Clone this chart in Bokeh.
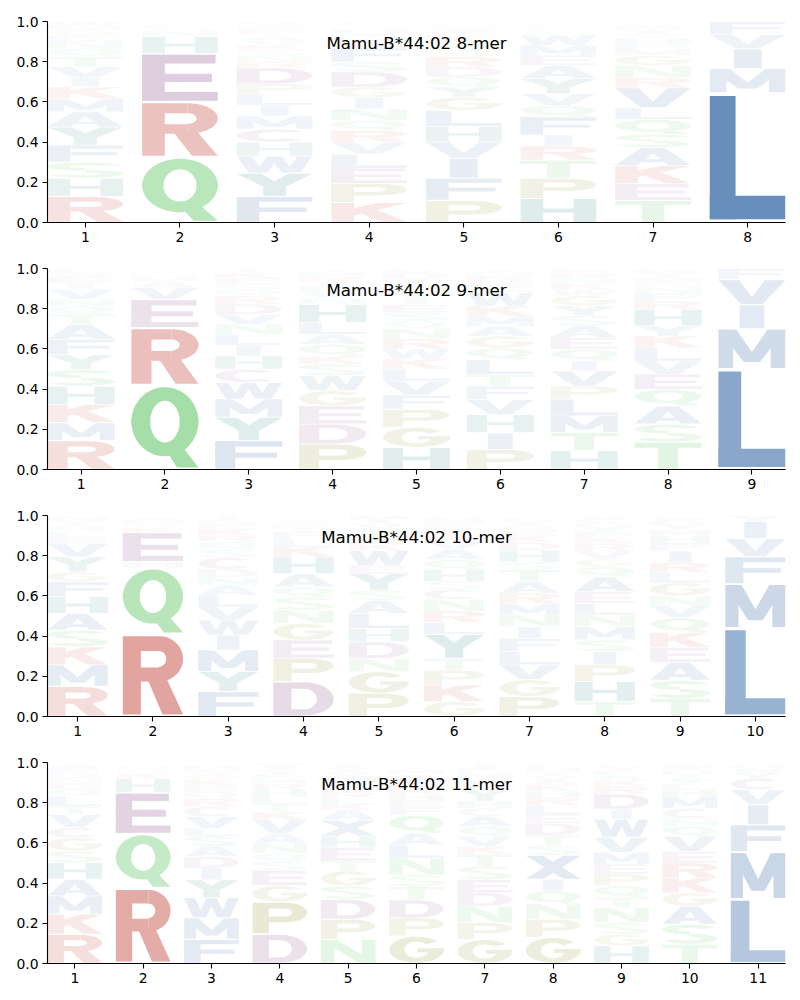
import numpy as np
from bokeh.plotting import figure
from bokeh.layouts import column
from bokeh.models import Label, Range1d, FixedTicker, PrintfTickFormatter
from bokeh.embed import file_html
from bokeh.resources import INLINE

# ---------------- data ----------------
titles = ["Mamu-B*44:02 8-mer", "Mamu-B*44:02 9-mer",
          "Mamu-B*44:02 10-mer", "Mamu-B*44:02 11-mer"]

mer8_letters = [
    "RHSFYAMKIVTQNEGDW",
    "QREHNSKYM",
    "FYWHCMILPDRNSKVATEQG",
    "KPELVRQNIGDSFAMYHTCW",
    "PFIVHLGYQDRSNTEKAMCW",
    "HPTRIFQVYAEMWNSKGLDC",
    "TEKASQLVRNGMFHYIDWCP",
    "LMIVF",
]
mer8_heights = [
    [0.13, 0.09, 0.08, 0.085, 0.09, 0.075, 0.065, 0.06, 0.045, 0.055, 0.05, 0.04, 0.035, 0.03, 0.03, 0.02, 0.02],
    [0.325, 0.275, 0.24, 0.085, 0.03, 0.02, 0.01, 0.008, 0.007],
    [0.13, 0.115, 0.085, 0.07, 0.065, 0.065, 0.055, 0.055, 0.05, 0.08, 0.03, 0.03, 0.03, 0.025, 0.02, 0.02, 0.015, 0.02, 0.02, 0.02],
    [0.10, 0.095, 0.075, 0.07, 0.06, 0.058, 0.05, 0.058, 0.055, 0.053, 0.075, 0.05, 0.07, 0.03, 0.025, 0.02, 0.02, 0.015, 0.01, 0.011],
    [0.11, 0.11, 0.10, 0.08, 0.078, 0.08, 0.066, 0.05, 0.05, 0.05, 0.05, 0.03, 0.03, 0.025, 0.02, 0.02, 0.015, 0.014, 0.012, 0.01],
    [0.12, 0.10, 0.09, 0.07, 0.055, 0.09, 0.058, 0.058, 0.075, 0.066, 0.05, 0.05, 0.05, 0.015, 0.012, 0.01, 0.01, 0.008, 0.007, 0.005],
    [0.11, 0.083, 0.09, 0.09, 0.066, 0.074, 0.058, 0.10, 0.05, 0.06, 0.05, 0.03, 0.03, 0.025, 0.02, 0.02, 0.015, 0.012, 0.01, 0.007],
    [0.645, 0.12, 0.10, 0.07, 0.065],
]

mer9_letters = [
    "RMKHSYFATQNVIEWL",
    "QREVAMHKSN",
    "FYMWCHILNVDRQSEKT",
    "PDEGWSKQALHNVFIRMT",
    "HGPFVLKWRNQSEIYMATDC",
    "PIHVFTLQGAMKWSERNY",
    "HTMLPVIQEASYGWKNRF",
    "TSAQEVLKYHRFNGMIWD",
    "LMIVF",
]
mer9_heights = [
    [0.144, 0.09, 0.09, 0.09, 0.083, 0.075, 0.075, 0.075, 0.05, 0.04, 0.035, 0.05, 0.03, 0.03, 0.02, 0.02],
    [0.42, 0.285, 0.14, 0.06, 0.03, 0.02, 0.015, 0.01, 0.01, 0.01],
    [0.144, 0.116, 0.09, 0.083, 0.066, 0.066, 0.053, 0.055, 0.05, 0.05, 0.05, 0.04, 0.03, 0.03, 0.03, 0.025, 0.02],
    [0.127, 0.10, 0.09, 0.075, 0.075, 0.058, 0.04, 0.058, 0.05, 0.058, 0.09, 0.03, 0.03, 0.03, 0.025, 0.025, 0.02, 0.019],
    [0.11, 0.10, 0.09, 0.07, 0.07, 0.06, 0.05, 0.05, 0.05, 0.05, 0.04, 0.04, 0.04, 0.03, 0.03, 0.02, 0.02, 0.03, 0.03, 0.02],
    [0.10, 0.083, 0.09, 0.075, 0.066, 0.058, 0.075, 0.058, 0.058, 0.05, 0.05, 0.05, 0.066, 0.03, 0.03, 0.025, 0.02, 0.016],
    [0.094, 0.09, 0.083, 0.083, 0.066, 0.075, 0.05, 0.058, 0.058, 0.058, 0.05, 0.05, 0.05, 0.03, 0.03, 0.025, 0.025, 0.025],
    [0.136, 0.09, 0.09, 0.083, 0.075, 0.066, 0.066, 0.058, 0.05, 0.083, 0.04, 0.04, 0.03, 0.025, 0.02, 0.02, 0.015, 0.013],
    [0.50, 0.20, 0.12, 0.125, 0.055],
]

mer10_letters = [
    "RMKSAHFGYVELQTN",
    "RQHEKSMAN",
    "FYMIWVLANDCSQRKEGT",
    "DPEGNSQAHKLFTRVYMW",
    "PGNDHLASYEWKRTQVIM",
    "GKPTYLRNCSHQAVEIDFMW",
    "PGVLFINMRATSHDKEQYCW",
    "THPISMNLEAQGVRKFYDCW",
    "TSAEKQVNGLRIFHMYDWC",
    "LMFVIY",
]
mer10_heights = [
    [0.15, 0.107, 0.09, 0.083, 0.083, 0.083, 0.074, 0.05, 0.074, 0.066, 0.03, 0.03, 0.03, 0.025, 0.025],
    [0.41, 0.33, 0.03, 0.145, 0.025, 0.02, 0.015, 0.015, 0.01],
    [0.124, 0.10, 0.107, 0.074, 0.074, 0.066, 0.058, 0.05, 0.04, 0.04, 0.058, 0.04, 0.04, 0.03, 0.03, 0.025, 0.02, 0.024],
    [0.174, 0.116, 0.09, 0.083, 0.066, 0.066, 0.05, 0.066, 0.083, 0.05, 0.04, 0.035, 0.02, 0.02, 0.015, 0.01, 0.01, 0.006],
    [0.116, 0.107, 0.066, 0.083, 0.066, 0.074, 0.066, 0.05, 0.083, 0.04, 0.074, 0.03, 0.03, 0.025, 0.025, 0.025, 0.02, 0.02],
    [0.074, 0.083, 0.074, 0.058, 0.12, 0.058, 0.058, 0.058, 0.05, 0.04, 0.058, 0.05, 0.05, 0.04, 0.03, 0.025, 0.02, 0.02, 0.02, 0.014],
    [0.10, 0.083, 0.074, 0.066, 0.066, 0.058, 0.058, 0.058, 0.05, 0.058, 0.058, 0.04, 0.058, 0.04, 0.03, 0.03, 0.025, 0.02, 0.016, 0.012],
    [0.074, 0.10, 0.083, 0.066, 0.058, 0.066, 0.058, 0.058, 0.058, 0.074, 0.05, 0.04, 0.04, 0.035, 0.03, 0.03, 0.025, 0.02, 0.02, 0.015],
    [0.09, 0.09, 0.09, 0.074, 0.074, 0.074, 0.058, 0.05, 0.066, 0.05, 0.05, 0.058, 0.04, 0.035, 0.03, 0.025, 0.02, 0.016, 0.01],
    [0.44, 0.22, 0.135, 0.09, 0.085, 0.03],
]

mer11_letters = [
    "RKMAHSGCVTLQENDFWI",
    "RQEHKSNMA",
    "FMWYIDASLVCRQEKGNHT",
    "DPGESQNAVKTLHRMFYIW",
    "NPDSGTEHXAKLRQFMVYIW",
    "GPDTSNLAQFEHKRVYMICW",
    "GPNDESTKVQACHYRLMFIW",
    "GPNQIXSTDELRHKAVYMFW",
    "HGSNTQPEMVWIDRKAFYLC",
    "TSAGKREVQNCMHLYIDFWP",
    "LMFIVCYWHQ",
]
mer11_heights = [
    [0.146, 0.1, 0.09, 0.083, 0.083, 0.058, 0.066, 0.05, 0.066, 0.04, 0.05, 0.035, 0.03, 0.025, 0.025, 0.02, 0.02, 0.013],
    [0.375, 0.27, 0.205, 0.07, 0.025, 0.02, 0.015, 0.01, 0.01],
    [0.12, 0.107, 0.1, 0.09, 0.058, 0.058, 0.05, 0.05, 0.04, 0.058, 0.05, 0.04, 0.035, 0.03, 0.03, 0.025, 0.025, 0.02, 0.014],
    [0.146, 0.16, 0.083, 0.074, 0.045, 0.04, 0.05, 0.05, 0.066, 0.04, 0.04, 0.035, 0.035, 0.03, 0.025, 0.025, 0.02, 0.02, 0.016],
    [0.12, 0.1, 0.1, 0.066, 0.074, 0.05, 0.066, 0.058, 0.08, 0.05, 0.03, 0.03, 0.03, 0.03, 0.025, 0.025, 0.02, 0.02, 0.015, 0.011],
    [0.137, 0.09, 0.09, 0.066, 0.058, 0.083, 0.066, 0.058, 0.09, 0.04, 0.035, 0.03, 0.03, 0.025, 0.025, 0.02, 0.02, 0.015, 0.012, 0.01],
    [0.12, 0.083, 0.083, 0.066, 0.066, 0.066, 0.058, 0.04, 0.05, 0.05, 0.05, 0.04, 0.035, 0.06, 0.03, 0.025, 0.025, 0.02, 0.02, 0.013],
    [0.13, 0.09, 0.075, 0.066, 0.058, 0.12, 0.05, 0.05, 0.058, 0.045, 0.045, 0.04, 0.03, 0.03, 0.025, 0.02, 0.02, 0.02, 0.015, 0.013],
    [0.088, 0.058, 0.058, 0.075, 0.05, 0.058, 0.058, 0.05, 0.058, 0.075, 0.09, 0.05, 0.075, 0.04, 0.03, 0.025, 0.02, 0.02, 0.012, 0.01],
    [0.096, 0.1, 0.09, 0.066, 0.074, 0.074, 0.058, 0.074, 0.05, 0.04, 0.05, 0.058, 0.035, 0.03, 0.025, 0.02, 0.02, 0.015, 0.015, 0.01],
    [0.32, 0.235, 0.135, 0.10, 0.075, 0.055, 0.03, 0.02, 0.015, 0.015],
]

panels = [(mer8_letters, mer8_heights), (mer9_letters, mer9_heights),
          (mer10_letters, mer10_heights), (mer11_letters, mer11_heights)]

# ---------------- colours ----------------
BLUE = (75, 120, 175)
RED = (200, 85, 75)
GREEN = (90, 195, 95)
MAUVE = (145, 95, 150)
OLIVE = (150, 150, 60)
TEAL = (45, 135, 130)
BASE = {}
for ch in "LMFIVWAX":
    BASE[ch] = BLUE
for ch in "RK":
    BASE[ch] = RED
for ch in "QNST":
    BASE[ch] = GREEN
for ch in "EDC":
    BASE[ch] = MAUVE
for ch in "PG":
    BASE[ch] = OLIVE
for ch in "HY":
    BASE[ch] = TEAL


def shade(ch, h):
    a = min(1.0, 1.3 * h)
    c = BASE[ch]
    return "#%02x%02x%02x" % tuple(int(round(255 - a * (255 - v))) for v in c)


# ---------------- glyph outlines (unit box) ----------------
def rect(x0, y0, x1, y1):
    return [(x0, y0), (x1, y0), (x1, y1), (x0, y1)]


def ring(cx, cy, rxo, ryo, rxi, ryi, a0, a1, n=40):
    t = np.radians(np.linspace(a0, a1, n))
    ox = cx + rxo * np.cos(t)
    oy = cy + ryo * np.sin(t)
    ix = cx + rxi * np.cos(t[::-1])
    iy = cy + ryi * np.sin(t[::-1])
    return list(zip(np.concatenate([ox, ix]), np.concatenate([oy, iy])))


GLYPHS = {
    'A': [[(0, 0), (0.3, 0), (0.5, 0.7), (0.7, 0), (1, 0), (0.66, 1), (0.34, 1)], rect(0.2, 0.17, 0.8, 0.34)],
    'C': [ring(0.5, 0.5, 0.5, 0.5, 0.22, 0.31, 45, 315)],
    'D': [rect(0, 0, 0.3, 1), rect(0.28, 0, 0.52, 0.19), rect(0.28, 0.81, 0.52, 1),
          ring(0.5, 0.5, 0.5, 0.5, 0.22, 0.31, -90, 90)],
    'E': [rect(0, 0, 0.3, 1), rect(0, 0, 1, 0.19), rect(0, 0.41, 0.92, 0.59), rect(0, 0.81, 0.97, 1)],
    'F': [rect(0, 0, 0.3, 1), rect(0, 0.81, 1, 1), rect(0, 0.4, 0.92, 0.58)],
    'G': [ring(0.5, 0.5, 0.5, 0.5, 0.22, 0.31, 40, 360), rect(0.52, 0.4, 1, 0.56)],
    'H': [rect(0, 0, 0.3, 1), rect(0.7, 0, 1, 1), rect(0, 0.41, 1, 0.59)],
    'I': [rect(0, 0, 1, 1)],
    'K': [rect(0, 0, 0.3, 1), [(0.22, 0.28), (1, 1), (0.6, 1), (0.22, 0.66)],
          [(0.36, 0.5), (0.66, 0), (1, 0), (0.6, 0.64)]],
    'L': [rect(0, 0, 0.34, 1), rect(0, 0, 1, 0.19)],
    'M': [rect(0, 0, 0.22, 1), rect(0.78, 0, 1, 1),
          [(0, 1), (0.27, 1), (0.5, 0.42), (0.73, 1), (1, 1), (0.62, 0.16), (0.38, 0.16)]],
    'N': [rect(0, 0, 0.25, 1), rect(0.75, 0, 1, 1), [(0, 1), (0.3, 1), (1, 0), (0.7, 0)]],
    'P': [rect(0, 0, 0.3, 1), rect(0.28, 0.81, 0.62, 1), rect(0.28, 0.36, 0.62, 0.55),
          ring(0.6, 0.68, 0.4, 0.32, 0.12, 0.13, -90, 90)],
    'Q': [ring(0.5, 0.57, 0.5, 0.43, 0.22, 0.26, -5, 185), ring(0.5, 0.57, 0.5, 0.43, 0.22, 0.26, 175, 365),
          [(0.48, 0.26), (0.76, 0.26), (1, 0), (0.68, 0)]],
    'R': [rect(0, 0, 0.3, 1), rect(0.28, 0.81, 0.6, 1), rect(0.28, 0.42, 0.6, 0.6),
          ring(0.6, 0.71, 0.4, 0.29, 0.12, 0.1, -90, 90), [(0.4, 0.47), (0.72, 0.47), (1, 0), (0.66, 0)]],
    'S': [ring(0.5, 0.74, 0.5, 0.26, 0.22, 0.09, 20, 270), ring(0.5, 0.26, 0.5, 0.26, 0.22, 0.09, -160, 90)],
    'T': [rect(0, 0.81, 1, 1), rect(0.35, 0, 0.65, 1)],
    'V': [[(0, 1), (0.31, 1), (0.5, 0.3), (0.69, 1), (1, 1), (0.66, 0), (0.34, 0)]],
    'W': [[(0, 1), (0.2, 1), (0.3, 0.38), (0.4, 1), (0.6, 1), (0.7, 0.38), (0.8, 1), (1, 1),
           (0.84, 0), (0.6, 0), (0.5, 0.58), (0.4, 0), (0.16, 0)]],
    'Y': [[(0, 1), (0.32, 1), (0.5, 0.66), (0.68, 1), (1, 1), (0.65, 0.42), (0.35, 0.42)],
          rect(0.35, 0, 0.65, 0.46)],
    'X': [[(0, 1), (0.32, 1), (1, 0), (0.68, 0)], [(0.68, 1), (1, 1), (0.32, 0), (0, 0)]],
}

WIDTH = 0.8


def build(letters, heights):
    xs, ys, cols = [], [], []
    for i, (seq, hs) in enumerate(zip(letters, heights)):
        xc = i + 1
        y0 = 0.0
        for ch, h in zip(seq, hs):
            pad = 0.025 * h
            w = WIDTH * (0.37 if ch == 'I' else 1.0)
            x0 = xc - w / 2
            yb = y0 + pad
            hh = h - 2 * pad
            col = shade(ch, h)
            for poly in GLYPHS[ch]:
                xs.append([x0 + u * w for u, v in poly])
                ys.append([yb + v * hh for u, v in poly])
                cols.append(col)
            y0 += h
    return xs, ys, cols


figs = []
for k, (title, (letters, heights)) in enumerate(zip(titles, panels)):
    n = len(letters)
    top = 21 if k == 0 else 13
    p = figure(width=792, height=201 + top + 33, output_backend="svg", toolbar_location=None,
               x_range=Range1d(0.6, n + 0.4), y_range=Range1d(0, 1),
               min_border_left=47, min_border_right=7, min_border_top=top, min_border_bottom=33)
    xs, ys, cols = build(letters, heights)
    p.patches(xs=xs, ys=ys, fill_color=cols, line_color=None)
    p.xgrid.visible = False
    p.ygrid.visible = False
    p.outline_line_color = None
    p.background_fill_color = "white"
    p.border_fill_color = "white"
    p.xaxis.ticker = FixedTicker(ticks=list(range(1, n + 1)))
    p.yaxis.ticker = FixedTicker(ticks=[0, 0.2, 0.4, 0.6, 0.8, 1.0])
    p.yaxis.formatter = PrintfTickFormatter(format="%.1f")
    for ax in (p.xaxis[0], p.yaxis[0]):
        ax.axis_line_color = "black"
        ax.axis_line_width = 1.1
        ax.major_tick_line_color = "black"
        ax.major_tick_line_width = 1.1
        ax.major_tick_out = 5
        ax.major_tick_in = 0
        ax.minor_tick_out = 0
        ax.minor_tick_in = 0
        ax.major_label_text_font = "DejaVu Sans"
        ax.major_label_text_font_size = "13.9px"
        ax.major_label_text_color = "black"
        ax.major_label_standoff = 4
    p.add_layout(Label(x=(n + 1) / 2, y=0.894, text=title, text_align="center",
                       text_baseline="alphabetic", text_font="DejaVu Sans",
                       text_font_size="16.7px", text_color="black"))
    figs.append(p)

layout = column(*figs, spacing=0)
open("out.html", "w").write(file_html(layout, INLINE))
